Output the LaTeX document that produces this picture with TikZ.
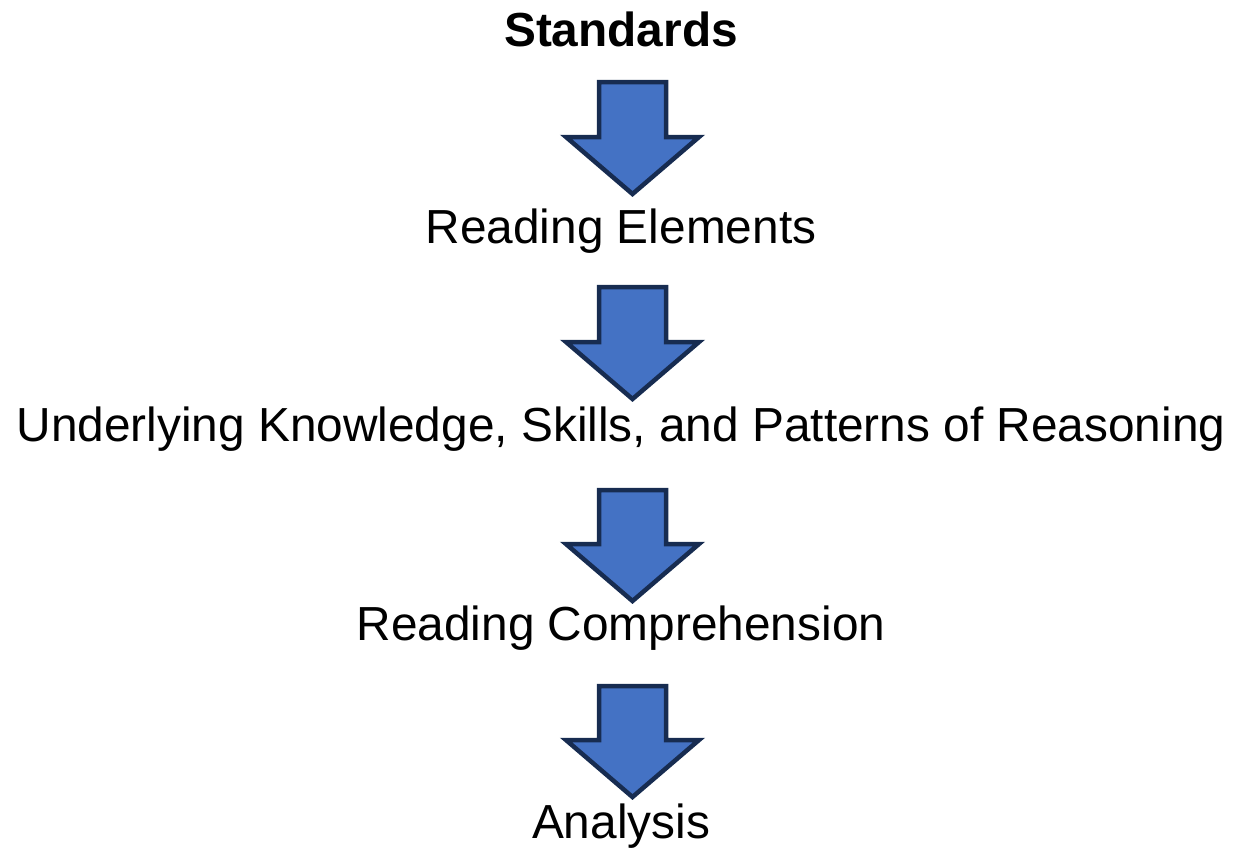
\documentclass[tikz,border=0pt]{standalone}
\usepackage{fontspec}
\setmainfont{Liberation Sans}
\definecolor{arrfill}{HTML}{4472C4}
\definecolor{arrline}{HTML}{172C51}
\begin{document}
\begin{tikzpicture}[x=1pt,y=-1pt,
  lbl/.style={anchor=base,inner sep=0pt,font=\fontsize{47.8}{52}\selectfont},
  downarrow/.style={fill=arrfill,draw=arrline,line width=4.5pt,line join=miter}]
\useasboundingbox (0,0) rectangle (1233,849);
\node[lbl,font=\fontsize{47.8}{52}\selectfont\bfseries] (s) at (621,46) {Standards};
\node[lbl] (re) at (621,243) {Reading Elements};
\node[lbl] (uk) at (621,441) {Underlying Knowledge, Skills, and Patterns of Reasoning};
\node[lbl] (rc) at (621,640) {Reading Comprehension};
\node[lbl] (an) at (621,838) {Analysis};
\foreach \t/\h in {82/137, 287/342, 490/544, 686/740}{
  \pgfmathsetmacro{\tip}{\h+57}
  \draw[downarrow] (599,\t) -- (666,\t) -- (666,\h) -- (699,\h) -- (632.5,\tip) -- (566,\h) -- (599,\h) -- cycle;
}
\end{tikzpicture}
\end{document}
